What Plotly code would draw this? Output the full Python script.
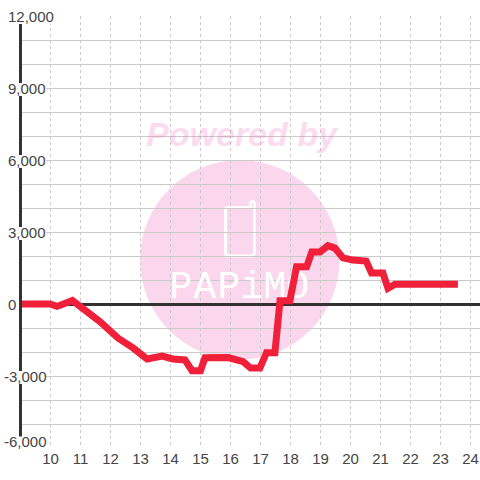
import plotly.graph_objects as go

# ---- data ----
hours = [8.8, 9.98, 10.22, 10.73, 11.65, 12.25, 12.75, 13.22, 13.72, 14.08, 14.48, 14.72, 15.0, 15.15,
         15.92, 16.42, 16.67, 16.98, 17.2, 17.48, 17.65, 17.98, 18.2, 18.54, 18.71, 18.98, 19.25, 19.48,
         19.75, 20.08, 20.52, 20.7, 21.08, 21.25, 21.48, 21.98, 23.58]
values = [0, 0, -100, 150, -740, -1420, -1830, -2290, -2170, -2290, -2330, -2780, -2780, -2240,
          -2230, -2400, -2670, -2670, -2030, -2030, 140, 140, 1550, 1550, 2170, 2170, 2430, 2330,
          1920, 1830, 1790, 1290, 1290, 650, 820, 820, 820]
x_ticks = list(range(10, 25))
y_grid = list(range(-6000, 12001, 1000))
y_label_values = [12000, 9000, 6000, 3000, 0, -3000, -6000]
y_label_texts = ["12,000", "9,000", "6,000", "3,000", "0", "-3,000", "-6,000"]
watermark_letters = ["P", "A", "P", "i", "M", "O"]

W, H = 480, 480
L, R, T, B = 22, 0, 16, 32
PX = 30.0
XMIN = 10 + (L - 50.5) / PX
XMAX = 10 + (W - 50.5) / PX


def px(x):
    return (x - L) / (W - L - R)


def py(y):
    return 1 - (y - T) / (H - T - B)


def hour(x):
    return 10 + (x - 50.5) / PX


GREY = "#cacaca"
DARK = "#333333"
TEXT = "#444444"
PINK = "#fbd7ed"
RED = "#f0203a"
FONT = "Liberation Sans"

letter_px = [181, 205, 229, 252, 275, 298]
watermark_hours = [hour(v) for v in letter_px]

fig = go.Figure()
fig.add_trace(go.Scatter(
    x=watermark_hours, y=[640] * 6, text=watermark_letters, mode="text",
    textposition="middle center", hoverinfo="skip", showlegend=False,
    textfont=dict(family="Liberation Mono", size=38, color="white"),
))
fig.add_trace(go.Scatter(
    x=hours, y=values, mode="lines", cliponaxis=False, showlegend=False,
    line=dict(color=RED, width=7, shape="linear"),
))

shapes = []
# watermark disc
shapes.append(dict(type="circle", xref="paper", yref="paper", layer="below",
                   x0=px(140), x1=px(339.5), y0=py(359.5), y1=py(160),
                   fillcolor=PINK, line=dict(width=0)))
# watermark phone outline
pts = [("M", 250.5, 207.5), ("L", 228, 207.5), ("Q", 225.5, 207.5, 225.5, 210), ("L", 225.5, 252.5),
       ("Q", 225.5, 256, 229, 256), ("L", 251, 256), ("Q", 254.5, 256, 254.5, 252.5), ("L", 254.5, 203),
       ("Q", 252.5, 200, 250.5, 203), ("Z",)]
path = ""
for p in pts:
    cmd, coords = p[0], p[1:]
    out = []
    for i in range(0, len(coords), 2):
        out.append(f"{px(coords[i]):.5f},{py(coords[i + 1]):.5f}")
    path += cmd + " ".join(out) + " "
shapes.append(dict(type="path", xref="paper", yref="paper", layer="below", path=path,
                   fillcolor="rgba(0,0,0,0)", line=dict(color="white", width=3)))

annotations = [dict(text="Powered by", xref="paper", yref="paper", x=px(242), y=py(134),
                    xanchor="center", yanchor="middle", showarrow=False,
                    font=dict(family=FONT, size=34, weight="bold", style="italic",
                              shadow="1px 0 0 rgba(242,115,192,0.2)",
                              color="rgba(242,115,192,0.24)"))]

left_edge = {"12,000": 6, "9,000": 6, "6,000": 6, "3,000": 6, "0": 6, "-3,000": 1.5, "-6,000": 1.5}
mask_right = {"12,000": 53, "9,000": 46, "6,000": 46, "3,000": 46, "0": 17, "-3,000": 46, "-6,000": 46}
for v, t in zip(y_label_values, y_label_texts):
    lift = 6.5 if v == -6000 else 0
    shapes.append(dict(type="rect", layer="above", xref="paper", yref="y", ysizemode="pixel", yanchor=v,
                       x0=px(0), x1=px(mask_right[t]), y0=-8 + lift, y1=5 + lift,
                       fillcolor="white", line=dict(width=0)))
    annotations.append(dict(text=t, xref="paper", yref="y", x=px(left_edge[t]), y=v, yshift=lift,
                            xanchor="left", yanchor="middle", showarrow=False,
                            font=dict(family=FONT, size=15, color=TEXT)))

fig.update_layout(
    width=W, height=H, margin=dict(l=L, r=R, t=T, b=B, pad=0),
    paper_bgcolor="white", plot_bgcolor="white", showlegend=False,
    shapes=shapes, annotations=annotations,
    font=dict(family=FONT, size=15, color=TEXT),
    xaxis=dict(range=[XMIN, XMAX], tickmode="array", tickvals=x_ticks, ticktext=[str(v) for v in x_ticks],
               showgrid=True, gridcolor=GREY, gridwidth=1, griddash="3px,3px", zeroline=False,
               showline=False, ticks="", tickangle=0, tickfont=dict(family=FONT, size=15, color=TEXT)),
    yaxis=dict(range=[-6000, 12000], tickmode="array", tickvals=y_grid, showticklabels=False,
               showgrid=True, gridcolor=GREY, gridwidth=1, zeroline=True, zerolinecolor=DARK,
               zerolinewidth=3, showline=True, linecolor=DARK, linewidth=3, ticks=""),
)

fig.write_html("out.html", config={"displayModeBar": False},
               post_script="document.body.style.margin='0';document.body.style.overflow='hidden';")
